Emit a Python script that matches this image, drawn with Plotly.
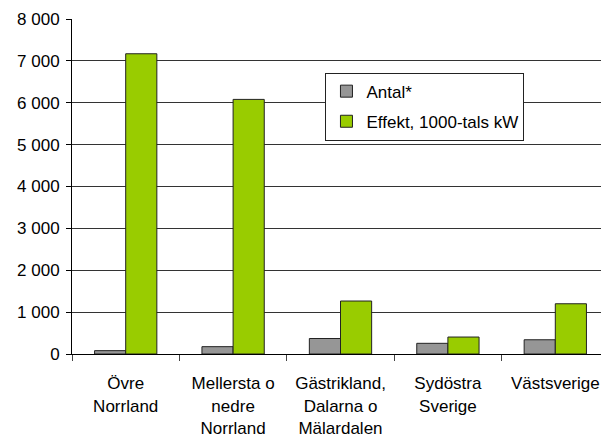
import plotly.graph_objects as go

categories = ["Övre<br>Norrland", "Mellersta o<br>nedre<br>Norrland", "Gästrikland,<br>Dalarna o<br>Mälardalen", "Sydöstra<br>Sverige", "Västsverige"]
antal = [80, 175, 370, 255, 340]
effekt = [7170, 6080, 1265, 405, 1200]
yticks = [0, 1000, 2000, 3000, 4000, 5000, 6000, 7000, 8000]
ytick_labels = ["0", "1 000", "2 000", "3 000", "4 000", "5 000", "6 000", "7 000", "8 000"]

fig = go.Figure()
fig.add_trace(go.Bar(x=categories, y=antal, name="Antal*", legendgroup="a",
                     marker=dict(color="#969696", line=dict(color="#222222", width=1))))
fig.add_trace(go.Bar(x=categories, y=effekt, name="Effekt, 1000-tals kW", legendgroup="b",
                     marker=dict(color="#99cc00", line=dict(color="#222222", width=1))))

# page body has an 8px margin; compensate so the plot lands where the reference has it
fig.update_layout(
    width=601, height=431,
    margin=dict(l=64, r=0, t=11, b=85),
    paper_bgcolor="white", plot_bgcolor="white",
    barmode="group", bargap=0.42, bargroupgap=0,
    font=dict(family="Liberation Sans, Arial, sans-serif", size=17, color="black"),
    legend=dict(x=0.472, y=0.84, xanchor="left", yanchor="top",
                bordercolor="#222222", borderwidth=1, bgcolor="white",
                font=dict(size=17), tracegroupgap=5, itemwidth=30,
                traceorder="grouped"),
    showlegend=True,
)
fig.update_xaxes(showline=True, linecolor="black", linewidth=1, ticks="outside",
                 tickson="boundaries", ticklen=6, tickcolor="#444444", showgrid=False,
                 ticklabelstandoff=14)
fig.update_yaxes(range=[0, 8000], tickvals=yticks, ticktext=ytick_labels,
                 showline=True, linecolor="black", linewidth=1, ticks="outside",
                 ticklen=5, tickcolor="black", showgrid=True, gridcolor="#333333",
                 gridwidth=1, zeroline=False, ticklabelstandoff=3)

fig.write_html("out.html")
